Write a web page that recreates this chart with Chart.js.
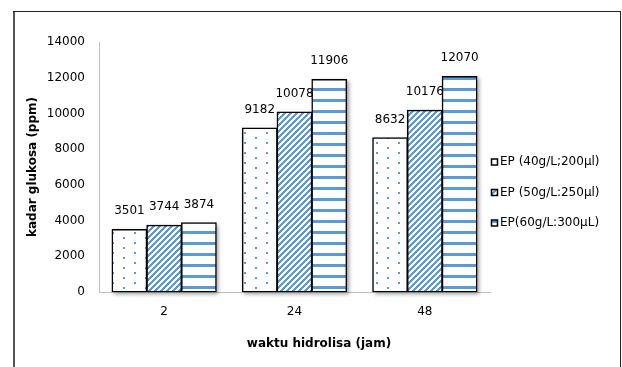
<!DOCTYPE html>
<html>
<head>
<meta charset="utf-8">
<script src="https://cdn.jsdelivr.net/npm/chart.js@4.4.1/dist/chart.umd.min.js"></script>
<style>
  html, body { margin: 0; padding: 0; background: #fff; }
  #wrap { position: relative; width: 622px; height: 367px; }
</style>
</head>
<body>
<div id="wrap"><canvas id="c" width="622" height="367"></canvas></div>
<script>
// ---- data ----
const categories = ['2', '24', '48'];
const seriesLabels = ['EP (40g/L;200µl)', 'EP (50g/L:250µl)', 'EP(60g/L:300µL)'];
const series1 = [3501, 9182, 8632];
const series2 = [3744, 10078, 10176];
const series3 = [3874, 11906, 12070];
const yTicks = [0, 2000, 4000, 6000, 8000, 10000, 12000, 14000];
const xTitle = 'waktu hidrolisa (jam)';
const yTitle = 'kadar glukosa (ppm)';

const BLUE = '#5B9BD5';
const FONT = "'DejaVu Sans', Verdana, sans-serif";

function makePattern(w, h, painter) {
  const c = document.createElement('canvas');
  c.width = w; c.height = h;
  const g = c.getContext('2d');
  g.fillStyle = '#ffffff';
  g.fillRect(0, 0, w, h);
  g.fillStyle = BLUE;
  painter(g, w, h);
  return document.getElementById('c').getContext('2d').createPattern(c, 'repeat');
}
const dotPattern = makePattern(22, 20, (g) => {
  g.fillRect(2, 2, 2, 2);
  g.fillRect(13, 7, 2, 2);
  g.fillRect(2, 12, 2, 2);
  g.fillRect(13, 17, 2, 2);
});
const diagPattern = makePattern(6, 6, (g, w, h) => {
  for (let x = 0; x < w; x++) for (let y = 0; y < h; y++) {
    if ((x + y) % 6 < 3) g.fillRect(x, y, 1, 1);
  }
});
const horizPattern = makePattern(11, 11, (g) => {
  g.fillRect(0, 0, 11, 3);
});
const patterns = [dotPattern, diagPattern, horizPattern];

const framePlugin = {
  id: 'frame',
  beforeDraw(chart) {
    const ctx = chart.ctx;
    ctx.save();
    ctx.fillStyle = '#fff';
    ctx.fillRect(0, 0, chart.width, chart.height);
    ctx.strokeStyle = '#555';
    ctx.lineWidth = 2;
    ctx.beginPath(); ctx.moveTo(14, 11); ctx.lineTo(14, chart.height); ctx.stroke();
    ctx.strokeStyle = '#222';
    ctx.lineWidth = 1;
    ctx.beginPath(); ctx.moveTo(13, 11.5); ctx.lineTo(621, 11.5); ctx.stroke();
    ctx.beginPath(); ctx.moveTo(620.5, 11); ctx.lineTo(620.5, chart.height); ctx.stroke();
    ctx.restore();
  }
};

const shadowPlugin = {
  id: 'barShadow',
  beforeDatasetsDraw(chart) {
    const ctx = chart.ctx;
    ctx.save();
    ctx.shadowColor = 'rgba(0,0,0,0.4)';
    ctx.shadowBlur = 4;
    ctx.shadowOffsetX = 2;
    ctx.shadowOffsetY = 2;
    ctx.fillStyle = '#fff';
    chart.data.datasets.forEach((ds, i) => {
      chart.getDatasetMeta(i).data.forEach((el) => {
        const p = el.getProps(['x', 'y', 'base', 'width'], true);
        ctx.fillRect(p.x - p.width / 2, p.y, p.width, p.base - p.y);
      });
    });
    ctx.restore();
  }
};

const labelPlugin = {
  id: 'valueLabels',
  afterDatasetsDraw(chart) {
    const ctx = chart.ctx;
    ctx.save();
    ctx.font = '12px ' + FONT;
    ctx.fillStyle = '#000';
    ctx.textAlign = 'center';
    ctx.textBaseline = 'alphabetic';
    chart.data.datasets.forEach((ds, i) => {
      chart.getDatasetMeta(i).data.forEach((el, j) => {
        const p = el.getProps(['x', 'y'], true);
        ctx.fillText(String(ds.data[j]), p.x, p.y - 15);
      });
    });
    ctx.restore();
  }
};

const legendPlugin = {
  id: 'customLegend',
  afterDraw(chart) {
    const ctx = chart.ctx;
    ctx.save();
    ctx.font = '12px ' + FONT;
    ctx.fillStyle = '#000';
    ctx.textBaseline = 'middle';
    ctx.textAlign = 'left';
    const x0 = chart.chartArea.right + 1;
    const ys = [162, 192.5, 223];
    chart.data.datasets.forEach((ds, i) => {
      const y = ys[i];
      ctx.fillStyle = ds.backgroundColor;
      ctx.fillRect(x0, y - 3.5, 7, 7);
      ctx.strokeStyle = '#000';
      ctx.lineWidth = 1.5;
      ctx.strokeRect(x0 + 0.5, y - 3, 6, 6);
      ctx.fillStyle = '#000';
      ctx.fillText(ds.label, x0 + 9, y);
    });
    // x axis title
    ctx.font = 'bold 12px ' + FONT;
    ctx.textAlign = 'center';
    ctx.fillText(xTitle, 319, 344);
    ctx.restore();
  }
};

new Chart(document.getElementById('c'), {
  type: 'bar',
  data: {
    labels: categories,
    datasets: [series1, series2, series3].map((d, i) => ({
      label: seriesLabels[i],
      data: d,
      backgroundColor: patterns[i],
      borderColor: '#000',
      borderWidth: 1.5,
      borderSkipped: false,
      inflateAmount: 0.5,
      categoryPercentage: 0.8,
      barPercentage: 1.0
    }))
  },
  options: {
    responsive: false,
    animation: false,
    devicePixelRatio: 1,
    layout: { padding: { top: 42, right: 132, bottom: 0, left: 0 } },
    plugins: {
      legend: { display: false },
      tooltip: { enabled: false }
    },
    scales: {
      x: {
        grid: { display: false, drawTicks: false },
        border: { display: true, color: '#bfbfbf', width: 1 },
        ticks: { color: '#000', font: { family: FONT, size: 12 }, padding: 13 },
        afterFit(scale) { scale.height = 75; }
      },
      y: {
        min: 0,
        max: 14000,
        afterBuildTicks(scale) { scale.ticks = yTicks.map(v => ({ value: v })); },
        grid: { display: false, drawTicks: false },
        border: { display: true, color: '#bfbfbf', width: 1 },
        ticks: {
          color: '#000',
          font: { family: FONT, size: 12 },
          padding: 14,
          callback: (v) => String(v)
        },
        title: {
          display: true,
          text: yTitle,
          color: '#000',
          font: { family: FONT, size: 12, weight: 'bold' },
          padding: { top: 26, bottom: 0 }
        },
        afterFit(scale) { scale.width = 99; }
      }
    }
  },
  plugins: [framePlugin, shadowPlugin, labelPlugin, legendPlugin]
});
</script>
</body>
</html>
